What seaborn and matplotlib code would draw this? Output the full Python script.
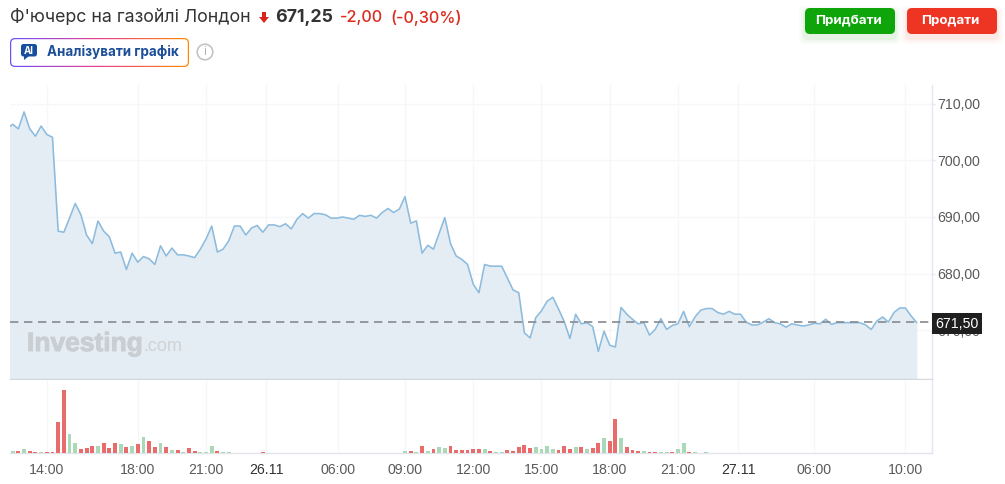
import matplotlib
matplotlib.use("Agg")
import matplotlib.pyplot as plt
import matplotlib.patheffects as pe
import numpy as np
import pandas as pd
import seaborn as sns

from matplotlib.colors import LinearSegmentedColormap
from matplotlib.patches import Circle, FancyBboxPatch, Polygon

W, H = 1005, 484

PRICES = [
    705.6, 706.4, 705.6, 708.6, 705.6, 704.3, 706.1, 704.6, 704.1, 687.5,
    687.3, 689.8, 692.4, 690.4, 686.8, 685.3, 689.3, 687.5, 686.5, 683.6,
    683.8, 680.7, 683.6, 682.0, 683.0, 682.6, 681.6, 684.9, 683.1, 684.5,
    683.3, 683.3, 683.1, 682.8, 684.3, 686.1, 688.4, 683.8, 684.3, 685.8,
    688.4, 688.4, 686.8, 688.05, 688.5, 687.3, 688.6, 688.6, 688.3, 688.8,
    687.9, 689.6, 690.6, 689.8, 690.6, 690.6, 690.4, 689.8, 689.8, 690.0,
    689.8, 689.6, 690.3, 690.1, 690.3, 689.8, 690.8, 691.5, 690.8, 691.4,
    693.6, 688.9, 689.3, 683.6, 685.0, 684.3, 687.1, 689.9, 685.3, 683.1,
    682.5, 681.6, 678.1, 676.6, 681.6, 681.3, 681.3, 681.3, 679.2, 677.1,
    676.6, 669.5, 668.6, 672.2, 673.4, 675.1, 675.8, 673.7, 671.5, 668.5,
    672.8, 671.1, 671.3, 670.6, 666.2, 669.8, 667.3, 667.0, 674.0, 672.8,
    671.9, 671.1, 671.3, 669.1, 670.1, 672.0, 670.1, 670.8, 671.1, 673.3,
    670.6, 672.3, 673.5, 673.8, 673.8, 673.1, 672.8, 673.3, 672.8, 672.8,
    671.4, 670.9, 670.9, 671.4, 672.0, 671.3, 671.1, 670.5, 671.1, 670.9,
    670.7, 670.9, 671.2, 671.1, 671.9, 671.0, 671.3, 671.3, 671.3, 671.3,
    671.3, 670.9, 670.1, 671.6, 672.3, 671.4, 673.1, 673.9, 673.9, 672.5,
    671.3,
]
VOLUMES = [
    4, 5, 5, 12, 6, 3, 2, 2, 2, 92,
    188, 56, 29, 12, 14, 22, 22, 29, 15, 29,
    26, 18, 22, 26, 49, 36, 18, 29, 18, 9,
    8, 2, 15, 5, 2, 2, 21, 5, 2, 2,
    0, 0, 0, 0, 0, 2, 0, 0, 0, 0,
    0, 0, 0, 0, 0, 0, 0, 0, 0, 0,
    0, 0, 0, 0, 0, 0, 0, 0, 0, 0,
    5, 5, 2, 22, 6, 12, 18, 14, 22, 8,
    8, 8, 12, 12, 11, 7, 4, 4, 10, 7,
    18, 25, 14, 18, 11, 21, 11, 8, 22, 11,
    18, 18, 12, 14, 29, 45, 35, 102, 45, 18,
    8, 5, 5, 2, 2, 2, 2, 2, 12, 29,
    2, 3, 0, 2, 0, 0, 0, 0, 0, 0,
    0, 0, 0, 0, 0, 0, 0, 0, 0, 0,
    0, 0, 0, 0, 0, 0, 0, 0, 0, 0,
    0, 0, 0, 0, 0, 0, 0, 0, 0, 0,
    0,
]
SIDES = list(
    "ggrgrrgrrr" "rggrrrgrrr" "grgrgrrgrg" "rgrrgggrgg"
    "rrrrrrrrrr" "rrrrrrrrrr" "rrrrrrrrrr"
    "grgrgrggrr" "rrrrgrggrr" "rrrggggrrr" "grgrrgrrgr" "rrgrrggrgg"
    "rgrgrrrrrr" "rrrrrrrrrr" "rrrrrrrrrr" "rrrrrrrrrr" "r"
)
LAST_PRICE = 671.5
Y_TICKS = [670, 680, 690, 700, 710]
Y_LABELS = ["670,00", "680,00", "690,00", "700,00", "710,00"]
X_TICKS = [7, 23, 35, 45.6, 58.2, 70, 82, 94, 106, 118, 128.6, 142, 158]
X_LABELS = ["14:00", "18:00", "21:00", "26.11", "06:00", "09:00", "12:00",
            "15:00", "18:00", "21:00", "27.11", "06:00", "10:00"]
DATE_LABELS = ["26.11", "27.11"]

GRID = "#f6f7fa"
FILL = "#e4edf4"
LINE = "#8dbbdd"
RED = "#e86c6c"
GREEN = "#a9d9b6"
TEXT = "#333333"
TICK_TEXT = "#5a5a5a"


def pane(left, top, right, bottom):
    return [left / W, 1 - bottom / H, (right - left) / W, (bottom - top) / H]


def draw_price(ax, df):
    ax.fill_between(df["idx"], df["price"], 661.33, color=FILL, lw=0, zorder=2)
    sns.lineplot(data=df, x="idx", y="price", color=LINE, lw=1.15, ax=ax, zorder=3)
    ax.axhline(LAST_PRICE, color="#858a8f", lw=1.2, dashes=(5, 3.4), zorder=4)
    ax.set_ylim(661.33, 713.36)
    ax.set_yticks(Y_TICKS, Y_LABELS)
    ax.yaxis.tick_right()
    ax.tick_params(axis="y", length=2, width=1, color="#e6e7f0", pad=1.5,
                   labelsize=10, labelcolor=TICK_TEXT)
    ax.tick_params(axis="x", length=0, labelbottom=False)
    ax.set_xlabel("")
    ax.set_ylabel("")


def draw_volume(ax, df):
    sns.barplot(
        data=df, x="idx", y="volume", hue="side", palette={"r": RED, "g": GREEN},
        native_scale=True, dodge=False, width=0.68, saturation=1, legend=False,
        ax=ax, zorder=3, linewidth=0,
    )
    ax.set_ylim(0, 219)
    ax.set_yticks([])
    ax.set_xticks(X_TICKS, X_LABELS)
    ax.tick_params(axis="x", length=4, width=1, color="#e6e7f0", pad=3,
                   labelsize=10, labelcolor=TICK_TEXT)
    for label in ax.get_xticklabels():
        if label.get_text() in DATE_LABELS:
            label.set_color(TEXT)
    ax.set_xlabel("")
    ax.set_ylabel("")


def draw_button(ui, x0, y0, x1, y1, color, label):
    for grow, alpha in [(6, 0.025), (4, 0.035), (2, 0.05)]:
        ui.add_patch(FancyBboxPatch(
            (x0 - grow, y0 + 4 - grow), x1 - x0 + 2 * grow, y1 - y0 + 2 * grow,
            boxstyle="round,pad=0,rounding_size=6", fc=color, ec="none", alpha=alpha,
        ))
    ui.add_patch(FancyBboxPatch(
        (x0, y0), x1 - x0, y1 - y0, boxstyle="round,pad=0,rounding_size=5",
        fc=color, ec="none",
    ))
    ui.text((x0 + x1) / 2 - 2, (y0 + y1) / 2 - 0.5, label, color="white",
            fontsize=9.6, fontweight="bold", ha="center", va="center")


def draw_header(ui):
    ui.text(10, 17.5, "Ф'ючерс на газойлі Лондон", fontsize=12.8, color=TEXT, va="center")
    ui.add_patch(Polygon(
        [(262, 12), (266, 12), (266, 17), (269, 17), (264, 23), (259, 17), (262, 17)],
        fc="#d8241c", ec="none",
    ))
    ui.text(275, 17.5, "671,25", fontsize=12.8, fontweight="bold", color=TEXT, va="center")
    ui.text(340, 17.5, "-2,00", fontsize=11.7, fontweight="medium", color="#dd2a1e", va="center")
    ui.text(390, 17.5, "(-0,30%)", fontsize=11.7, fontweight="medium", color="#dd2a1e", va="center")

    # gradient border of the analyse button
    cmap = LinearSegmentedColormap.from_list("ai", ["#6f4dff", "#e9408c", "#ff8a00"])
    img = ui.imshow(np.linspace(0, 1, 256)[None, :], cmap=cmap, aspect="auto",
                    extent=[10, 189, 67, 38], zorder=5)
    border = FancyBboxPatch((10, 38), 179, 29, boxstyle="round,pad=0,rounding_size=5",
                            fc="none", ec="none", transform=ui.transData)
    ui.add_patch(border)
    img.set_clip_path(border)
    ui.add_patch(FancyBboxPatch((11.2, 39.2), 176.6, 26.6,
                                boxstyle="round,pad=0,rounding_size=4",
                                fc="white", ec="none", zorder=6))
    ui.add_patch(FancyBboxPatch((21, 44), 16, 12.5, boxstyle="round,pad=0,rounding_size=2.5",
                                fc="#174f9e", ec="none", zorder=7))
    ui.add_patch(Polygon([(24, 56), (29, 56), (24, 60)], fc="#174f9e", ec="none", zorder=7))
    ui.text(29, 50.5, "AI", color="white", fontsize=7, fontweight="bold",
            ha="center", va="center", zorder=8)
    ui.text(47, 52, "Аналізувати графік", color="#1c4f98", fontsize=9.65,
            fontweight="bold", va="center", zorder=8)
    ui.add_patch(Circle((205, 52), 7.8, fc="none", ec="#c4c4c4", lw=1.2))
    ui.text(205, 52, "i", color="#b5b5b5", fontsize=8.5, ha="center", va="center")

    draw_button(ui, 805, 8, 895, 34, "#0ea50b", "Придбати")
    draw_button(ui, 907, 8, 997, 34, "#ee3524", "Продати")


def main() -> None:
    df = pd.DataFrame({
        "idx": np.arange(len(PRICES)),
        "price": PRICES,
        "volume": VOLUMES,
        "side": SIDES,
    })

    sns.set_theme(style="white")
    plt.rcParams["font.family"] = ["Inter", "DejaVu Sans"]
    fig = plt.figure(figsize=(W / 100, H / 100), dpi=100)

    ax_price = fig.add_axes(pane(10, 85, 932, 379))
    ax_volume = fig.add_axes(pane(10, 380, 932, 453))
    draw_price(ax_price, df)
    draw_volume(ax_volume, df)

    # index 0 sits at 7 px, one step is 5.686 px
    x_limits = ((10 - 7) / 5.686, (932 - 7) / 5.686)
    for ax in (ax_price, ax_volume):
        ax.set_xlim(*x_limits)
        ax.set_axisbelow(True)
        for tick in X_TICKS:
            ax.axvline(tick, color=GRID, lw=1, zorder=1)
        for side in ("top", "left"):
            ax.spines[side].set_visible(False)
        ax.spines["right"].set_color("#e6e7f0")
        ax.spines["right"].set_linewidth(1)
    for tick in Y_TICKS:
        ax_price.axhline(tick, color=GRID, lw=1, zorder=1)
    ax_price.spines["bottom"].set_color("#d3d8dd")
    ax_price.spines["bottom"].set_linewidth(1)
    ax_volume.spines["bottom"].set_color("#e2e4ec")
    ax_volume.spines["bottom"].set_linewidth(1)

    for tick_label in ax_price.get_yticklabels() + ax_volume.get_xticklabels():
        tick_label.set_fontfamily(["Liberation Sans", "DejaVu Sans"])
        tick_label.set_fontsize(10.2)

    ui = fig.add_axes([0, 0, 1, 1], zorder=10)
    ui.patch.set_alpha(0)
    ui.axis("off")
    draw_header(ui)

    # watermark and the last price tag
    ui.text(27, 344, "Investing", fontsize=19, fontweight="bold", color="#c9ced2",
            family=["Liberation Sans", "DejaVu Sans"], va="center",
            path_effects=[pe.withStroke(linewidth=0.7, foreground="#c9ced2")])
    ui.text(143, 346.5, ".com", fontsize=13, color="#cfd3d6",
            family=["Liberation Sans", "DejaVu Sans"], va="center")
    ui.add_patch(FancyBboxPatch((932, 313), 50, 21, boxstyle="square,pad=0",
                                fc="#1f1f1f", ec="none"))
    ui.text(957, 323.5, "671,50", color="white", fontsize=10.2,
            family=["Liberation Sans", "DejaVu Sans"], ha="center", va="center")
    ui.set_xlim(0, W)
    ui.set_ylim(H, 0)

    fig.savefig("out.png", dpi=100)


if __name__ == "__main__":
    main()
